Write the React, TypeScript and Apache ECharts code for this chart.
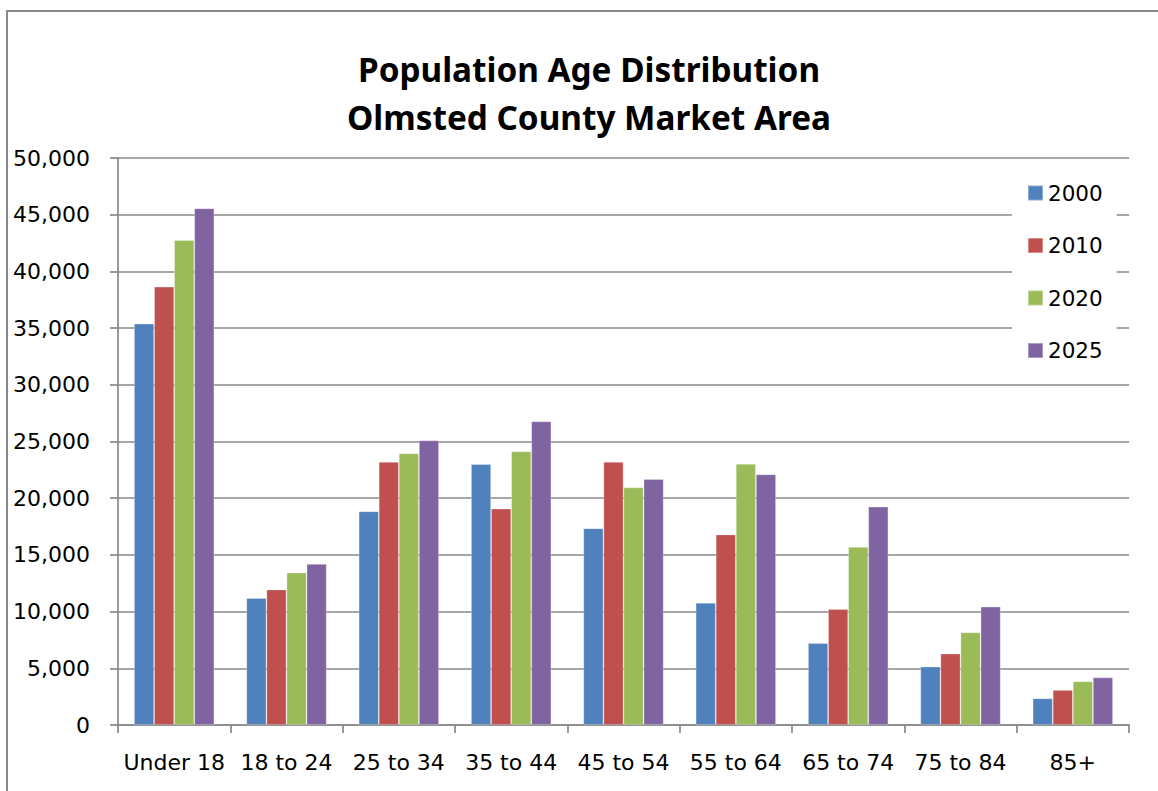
import React, { useEffect, useRef } from "react";
import * as echarts from "echarts";

const categories = ["Under 18", "18 to 24", "25 to 34", "35 to 44", "45 to 54", "55 to 64", "65 to 74", "75 to 84", "85+"];
const seriesNames = ["2000", "2010", "2020", "2025"];
const values2000 = [35400, 11200, 18850, 23000, 17350, 10780, 7230, 5150, 2350];
const values2010 = [38650, 11950, 23200, 19080, 23200, 16800, 10230, 6290, 3090];
const values2020 = [42770, 13450, 23950, 24130, 20950, 23020, 15700, 8170, 3850];
const values2025 = [45570, 14200, 25100, 26780, 21690, 22100, 19250, 10430, 4200];
const colors = ["#4F81BD", "#C0504D", "#9BBB59", "#8064A2"];
const titleText = "Population Age Distribution\nOlmsted County Market Area";

export default function App() {
  const ref = useRef<HTMLDivElement>(null);
  useEffect(() => {
    if (!ref.current) return;
    const chart = echarts.init(ref.current, null, { renderer: "svg" });
    const allValues = [values2000, values2010, values2020, values2025];
    const font = "'DejaVu Sans', sans-serif";
    chart.setOption({
      animation: false,
      backgroundColor: "#ffffff",
      title: {
        text: titleText,
        left: 584,
        top: 40,
        textAlign: "center",
        textStyle: {
          fontFamily: "'Noto Sans', sans-serif",
          fontWeight: "bold",
          fontSize: 33.3,
          lineHeight: 48,
          color: "#000",
        },
      },
      grid: { left: 118, right: 29, top: 158, bottom: 66, containLabel: false },
      legend: {
        orient: "vertical",
        left: 1012,
        top: 170,
        padding: [12, 14, 12, 15],
        backgroundColor: "#ffffff",
        itemWidth: 15,
        itemHeight: 15,
        itemGap: 30.5,
        icon: "rect",
        data: seriesNames,
        textStyle: { fontFamily: font, fontSize: 21.5, lineHeight: 21, color: "#000" },
      },
      xAxis: {
        type: "category",
        data: categories,
        axisLine: { lineStyle: { color: "#888", width: 1.7 } },
        axisTick: { show: true, length: 8, lineStyle: { color: "#888", width: 1.7 } },
        axisLabel: { fontFamily: font, fontSize: 22, color: "#000", margin: 26, interval: 0 },
        splitLine: { show: false },
      },
      yAxis: {
        type: "value",
        min: 0,
        max: 50000,
        interval: 5000,
        axisLine: { show: true, lineStyle: { color: "#888", width: 1.7 } },
        axisTick: { show: true, length: 8, lineStyle: { color: "#888", width: 1.7 } },
        axisLabel: {
          fontFamily: font,
          fontSize: 22,
          color: "#000",
          margin: 28,
          formatter: (v: number) => v.toLocaleString("en-US"),
        },
        splitLine: { show: true, lineStyle: { color: "#888", width: 1.7 } },
      },
      series: seriesNames.map((name, i) => ({
        name,
        type: "bar",
        data: allValues[i],
        barGap: "0%",
        barCategoryGap: "28.5%",
        itemStyle: { color: colors[i], borderColor: "rgba(255,255,255,0.35)", borderWidth: 0.8 },
      })),
      graphic: [
        {
          type: "rect",
          shape: { x: 7, y: 11, width: 1160, height: 800 },
          style: { fill: "none", stroke: "#888", lineWidth: 2 },
          silent: true,
        },
      ],
    });
    return () => chart.dispose();
  }, []);
  return <div ref={ref} style={{ position: "fixed", left: 0, top: 0, width: 1158, height: 791 }} />;
}
